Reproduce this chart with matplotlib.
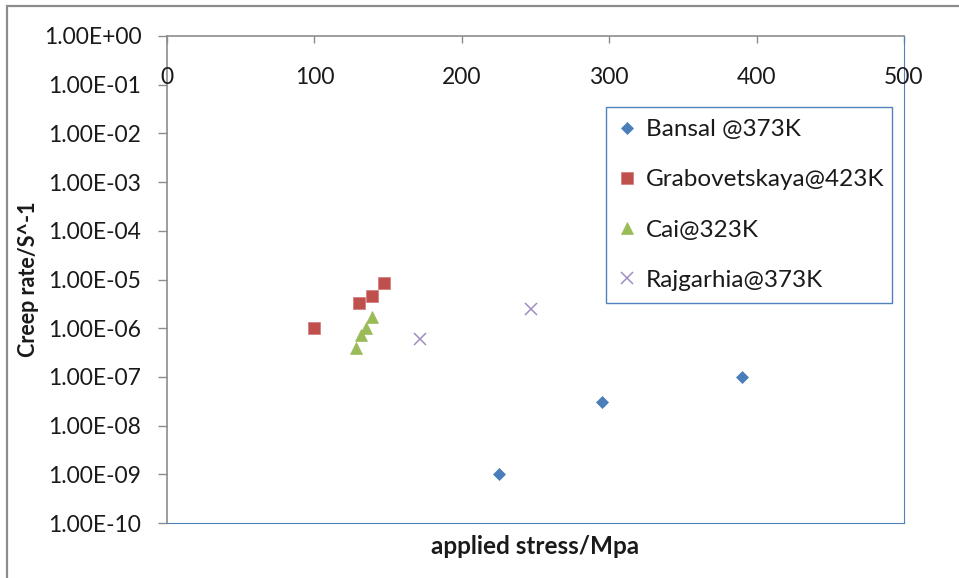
import matplotlib.pyplot as plt
import matplotlib.patches as mpatches
from matplotlib.ticker import FixedLocator, FuncFormatter, NullLocator
import matplotlib.transforms as mtransforms

# creep data: applied stress (MPa) vs creep rate (1/s)
bansal_stress = [225, 295, 390]
bansal_rate = [1.0e-9, 3.0e-8, 1.0e-7]

grabo_stress = [100, 130, 139, 147]
grabo_rate = [1.0e-6, 3.3e-6, 4.6e-6, 8.3e-6]

cai_stress = [128, 131.5, 135, 139]
cai_rate = [3.9e-7, 7.2e-7, 1.0e-6, 1.7e-6]

rajg_stress = [171.5, 247]
rajg_rate = [6.0e-7, 2.45e-6]

x_ticks = [0, 100, 200, 300, 400, 500]
y_ticks = [1e0, 1e-1, 1e-2, 1e-3, 1e-4, 1e-5, 1e-6, 1e-7, 1e-8, 1e-9, 1e-10]

plt.rcParams['font.family'] = ['Lato', 'DejaVu Sans']

W, H = 959, 578
fig = plt.figure(figsize=(W / 100, H / 100), dpi=100)

# chart area frame
frame = mpatches.Rectangle((7 / W, -0.05), 1.2, 1 - 6 / H + 0.05,
                           transform=fig.transFigure, fill=False,
                           edgecolor='#8c8c8c', linewidth=1.6)
fig.patches.append(frame)

left, right, top, bottom = 167, 904, 36, 523
ax = fig.add_axes([left / W, 1 - bottom / H, (right - left) / W, (bottom - top) / H])

gray = '#8c8c8c'
blue = '#4f81bd'
txt = '#1a1a1a'
fs_tick = 16.5
fs_text = 17.5

ax.plot(bansal_stress, bansal_rate, 'D', color='#4a7ebb', markersize=6,
        markeredgewidth=0.5, label='Bansal @373K')
ax.plot(grabo_stress, grabo_rate, 's', color='#c0504d', markersize=8,
        markeredgecolor='#d07a78', markeredgewidth=0.5, label='Grabovetskaya@423K')
ax.plot(cai_stress, cai_rate, '^', color='#9bbb59', markersize=8,
        markeredgewidth=0.5, label='Cai@323K')
ax.plot(rajg_stress, rajg_rate, 'x', color='#a08cc4', markersize=8,
        markeredgewidth=1.1, label='Rajgarhia@373K')

ax.set_yscale('log')
ax.set_ylim(1e-10, 1e0)
ax.set_xlim(0, 500)

ax.yaxis.set_major_locator(FixedLocator(y_ticks))
ax.yaxis.set_minor_locator(NullLocator())
ax.yaxis.set_major_formatter(FuncFormatter(lambda v, p: '%.2E' % v))
ax.tick_params(axis='y', direction='out', length=6.5, width=1, color=gray,
               labelsize=fs_tick, labelcolor=txt, pad=12)

# x axis sits on top of the plot, labels just underneath it
ax.xaxis.set_ticks_position('top')
ax.xaxis.set_major_locator(FixedLocator(x_ticks))
ax.tick_params(axis='x', direction='in', length=5, width=1, color=gray,
               labeltop=False, labelbottom=False)
trans = mtransforms.blended_transform_factory(ax.transData, ax.transAxes)
for xv in x_ticks:
    ax.text(xv, 0.914, str(xv), transform=trans, ha='center', va='center',
            fontsize=fs_tick, color=txt)

ax.spines['top'].set_color(gray)
ax.spines['left'].set_color(gray)
ax.spines['top'].set_linewidth(1.2)
ax.spines['left'].set_linewidth(1.2)
ax.spines['right'].set_color(blue)
ax.spines['bottom'].set_color(blue)
ax.spines['top'].set_zorder(3)

ax.set_xlabel('applied stress/Mpa', fontsize=fs_text, fontweight='bold',
              color=txt)
ax.xaxis.set_label_coords(0.5, -0.025)
ax.xaxis.label.set_va('top')
ax.set_ylabel('Creep rate/S^-1', fontsize=15.5, fontweight='bold',
              color=txt)
ax.yaxis.set_label_coords(-0.174, 0.5)

leg = ax.legend(loc='upper left', bbox_to_anchor=(0.5957, 0.854, 0.388, 0.0),
                mode='expand', frameon=True, fancybox=False, framealpha=1,
                edgecolor=blue, fontsize=fs_text, labelspacing=1.2,
                handlelength=0.7, handletextpad=0.45, borderpad=0.5,
                borderaxespad=0)
leg.get_frame().set_linewidth(1.0)
for t in leg.get_texts():
    t.set_color(txt)

fig.savefig('out.png', dpi=100)
